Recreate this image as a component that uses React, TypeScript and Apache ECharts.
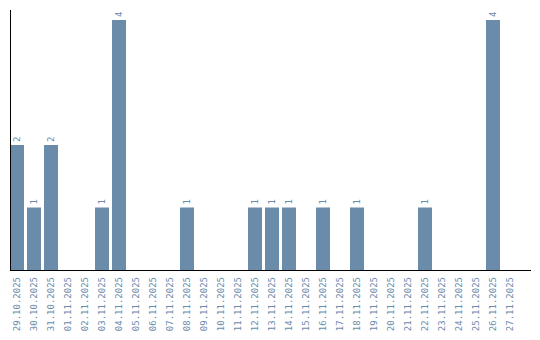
import React, { useEffect, useRef } from "react";
import * as echarts from "echarts";

const categories = [
  "29.10.2025", "30.10.2025", "31.10.2025", "01.11.2025", "02.11.2025", "03.11.2025",
  "04.11.2025", "05.11.2025", "06.11.2025", "07.11.2025", "08.11.2025", "09.11.2025",
  "10.11.2025", "11.11.2025", "12.11.2025", "13.11.2025", "14.11.2025", "15.11.2025",
  "16.11.2025", "17.11.2025", "18.11.2025", "19.11.2025", "20.11.2025", "21.11.2025",
  "22.11.2025", "23.11.2025", "24.11.2025", "25.11.2025", "26.11.2025", "27.11.2025",
];
const values = [2, 1, 2, 0, 0, 1, 4, 0, 0, 0, 1, 0, 0, 0, 1, 1, 1, 0, 1, 0, 1, 0, 0, 0, 1, 0, 0, 0, 4, 0];

const BAR = "#6b8bab";
const FONT = "DejaVu Sans Mono";

export default function App() {
  const ref = useRef<HTMLDivElement>(null);
  useEffect(() => {
    const chart = echarts.init(ref.current!, null, { renderer: "svg" });
    chart.setOption({
      animation: false,
      grid: { left: 8.5, right: 21.5, top: 10, bottom: 70 },
      xAxis: {
        type: "category",
        data: categories,
        axisLine: { show: false },
        axisTick: { show: false },
        axisLabel: {
          rotate: 90,
          interval: 0,
          color: BAR,
          fontFamily: FONT,
          fontSize: 9,
          margin: 7,
        },
      },
      yAxis: {
        type: "value",
        min: 0,
        max: 4.16,
        axisLine: { show: false },
        axisTick: { show: false },
        axisLabel: { show: false },
        splitLine: { show: false },
      },
      graphic: [
        {
          type: "line",
          shape: { x1: 10.5, y1: 10, x2: 10.5, y2: 270 },
          style: { stroke: "#000", lineWidth: 1 },
          z: 10,
        },
        {
          type: "line",
          shape: { x1: 10, y1: 270.5, x2: 531, y2: 270.5 },
          style: { stroke: "#000", lineWidth: 1 },
          z: 10,
        },
      ],
      series: [
        {
          type: "bar",
          data: values.map((v) => (v === 0 ? null : v)),
          barWidth: 14,
          itemStyle: { color: BAR },
          label: {
            show: true,
            position: "top",
            rotate: 90,
            align: "left",
            verticalAlign: "middle",
            distance: 3,
            color: BAR,
            fontFamily: FONT,
            fontSize: 9,
          },
        },
      ],
    });
    return () => chart.dispose();
  }, []);
  return <div ref={ref} style={{ width: 540, height: 340, margin: -8 }} />;
}
